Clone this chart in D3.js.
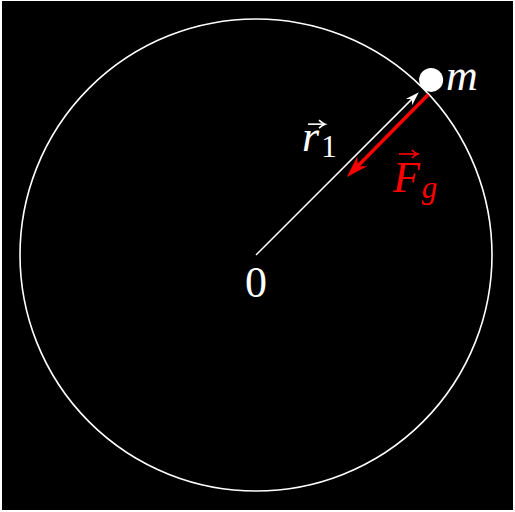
<!DOCTYPE html>
<html>
<head>
<meta charset="utf-8">
<script src="https://cdn.jsdelivr.net/npm/d3@7"></script>
<style>
  body { margin: 0; background: #fff; }
  svg { display: block; }
  text { font-family: "Liberation Serif", "DejaVu Serif", serif; }
</style>
</head>
<body>
<div id="chart"></div>
<script>
// orbit diagram, everything in units of the orbit radius
var orbitRadius = [1];
var origin = [0, 0];
var massPos = [0.742, 0.742];

var vecNames = ["r1", "Fg"];
var vecFrom = [[0, 0], [0.73, 0.68]];
var vecTo = [[0.69, 0.69], [0.385, 0.33]];
var vecColors = ["#fff", "#ff0000"];

// label text + where they sit (data units)
var labelText = ["r", "F", "m", "0"];
var labelSub = ["1", "g", "", ""];
var labelArrow = [true, true, false, false];
var labelPos = [[0.195, 0.44], [0.58, 0.267], [0.805, 0.70], [0, -0.18]];
var labelColor = ["#fff", "#ff0000", "#fff", "#fff"];
var labelItalic = [true, true, true, false];

var width = 515, height = 512;

var svg = d3.select("#chart")
  .append("svg")
  .attr("width", width)
  .attr("height", height);

svg.append("rect")
  .attr("x", 2).attr("y", 1)
  .attr("width", 511).attr("height", 509)
  .attr("fill", "#000");

var x = d3.scaleLinear().domain([-1, 1]).range([20, 492]);
var y = d3.scaleLinear().domain([-1, 1]).range([491, 19]);
var unit = x(1) - x(0);

// orbit
svg.append("circle")
  .attr("cx", x(origin[0]))
  .attr("cy", y(origin[1]))
  .attr("r", orbitRadius[0] * unit)
  .attr("fill", "none")
  .attr("stroke", "#fff")
  .attr("stroke-width", 1.6);

// arrowheads, drawn by hand so the tip lands on the end point
function head(x1, y1, x2, y2, len, wid) {
  var a = Math.atan2(y2 - y1, x2 - x1);
  var bx = x2 - len * Math.cos(a), by = y2 - len * Math.sin(a);
  var nx = -Math.sin(a), ny = Math.cos(a);
  var ix = x2 - len * 0.7 * Math.cos(a), iy = y2 - len * 0.7 * Math.sin(a);
  return "M" + x2 + "," + y2 +
    "L" + (bx + nx * wid / 2) + "," + (by + ny * wid / 2) +
    "L" + ix + "," + iy +
    "L" + (bx - nx * wid / 2) + "," + (by - ny * wid / 2) + "Z";
}

var strokeW = [1.5, 3.5];
var headLen = [14, 22];
var headWid = [9, 14];

vecNames.forEach(function (n, i) {
  var x1 = x(vecFrom[i][0]), y1 = y(vecFrom[i][1]);
  var x2 = x(vecTo[i][0]), y2 = y(vecTo[i][1]);
  var a = Math.atan2(y2 - y1, x2 - x1);
  var back = headLen[i] * 0.6;
  svg.append("line")
    .attr("x1", x1).attr("y1", y1)
    .attr("x2", x2 - back * Math.cos(a)).attr("y2", y2 - back * Math.sin(a))
    .attr("stroke", vecColors[i])
    .attr("stroke-width", strokeW[i]);
  svg.append("path")
    .attr("d", head(x1, y1, x2, y2, headLen[i], headWid[i]))
    .attr("fill", vecColors[i]);
});

// the mass
svg.append("circle")
  .attr("cx", x(massPos[0]))
  .attr("cy", y(massPos[1]))
  .attr("r", 12)
  .attr("fill", "#fff");

// labels
labelText.forEach(function (t, i) {
  var g = svg.append("g")
    .attr("transform", "translate(" + x(labelPos[i][0]) + "," + y(labelPos[i][1]) + ")");
  var txt = g.append("text")
    .attr("fill", labelColor[i])
    .attr("font-size", 44)
    .attr("font-style", labelItalic[i] ? "italic" : "normal")
    .attr("text-anchor", labelText[i] == "0" ? "middle" : "start")
    .text(t);
  if (labelSub[i]) {
    txt.append("tspan")
      .attr("font-size", 31)
      .attr("font-style", labelSub[i] == "1" ? "normal" : "italic")
      .attr("dx", 2)
      .attr("dy", 6)
      .text(labelSub[i]);
  }
  if (labelArrow[i]) {
    var ax = labelText[i] == "F" ? 6 : 6;
    var aw = labelText[i] == "F" ? 18 : 16;
    var ay = labelText[i] == "F" ? -38 : -27;
    g.append("line")
      .attr("x1", ax).attr("y1", ay)
      .attr("x2", ax + aw).attr("y2", ay)
      .attr("stroke", labelColor[i])
      .attr("stroke-width", 1.6);
    g.append("path")
      .attr("d", "M" + (ax + aw - 5) + "," + (ay - 4) + " Q" + (ax + aw - 2) + "," + (ay - 1) + " " + (ax + aw + 1) + "," + ay +
        " Q" + (ax + aw - 2) + "," + (ay + 1) + " " + (ax + aw - 5) + "," + (ay + 4))
      .attr("fill", "none")
      .attr("stroke", labelColor[i])
      .attr("stroke-width", 1.6);
  }
});
</script>
</body>
</html>
